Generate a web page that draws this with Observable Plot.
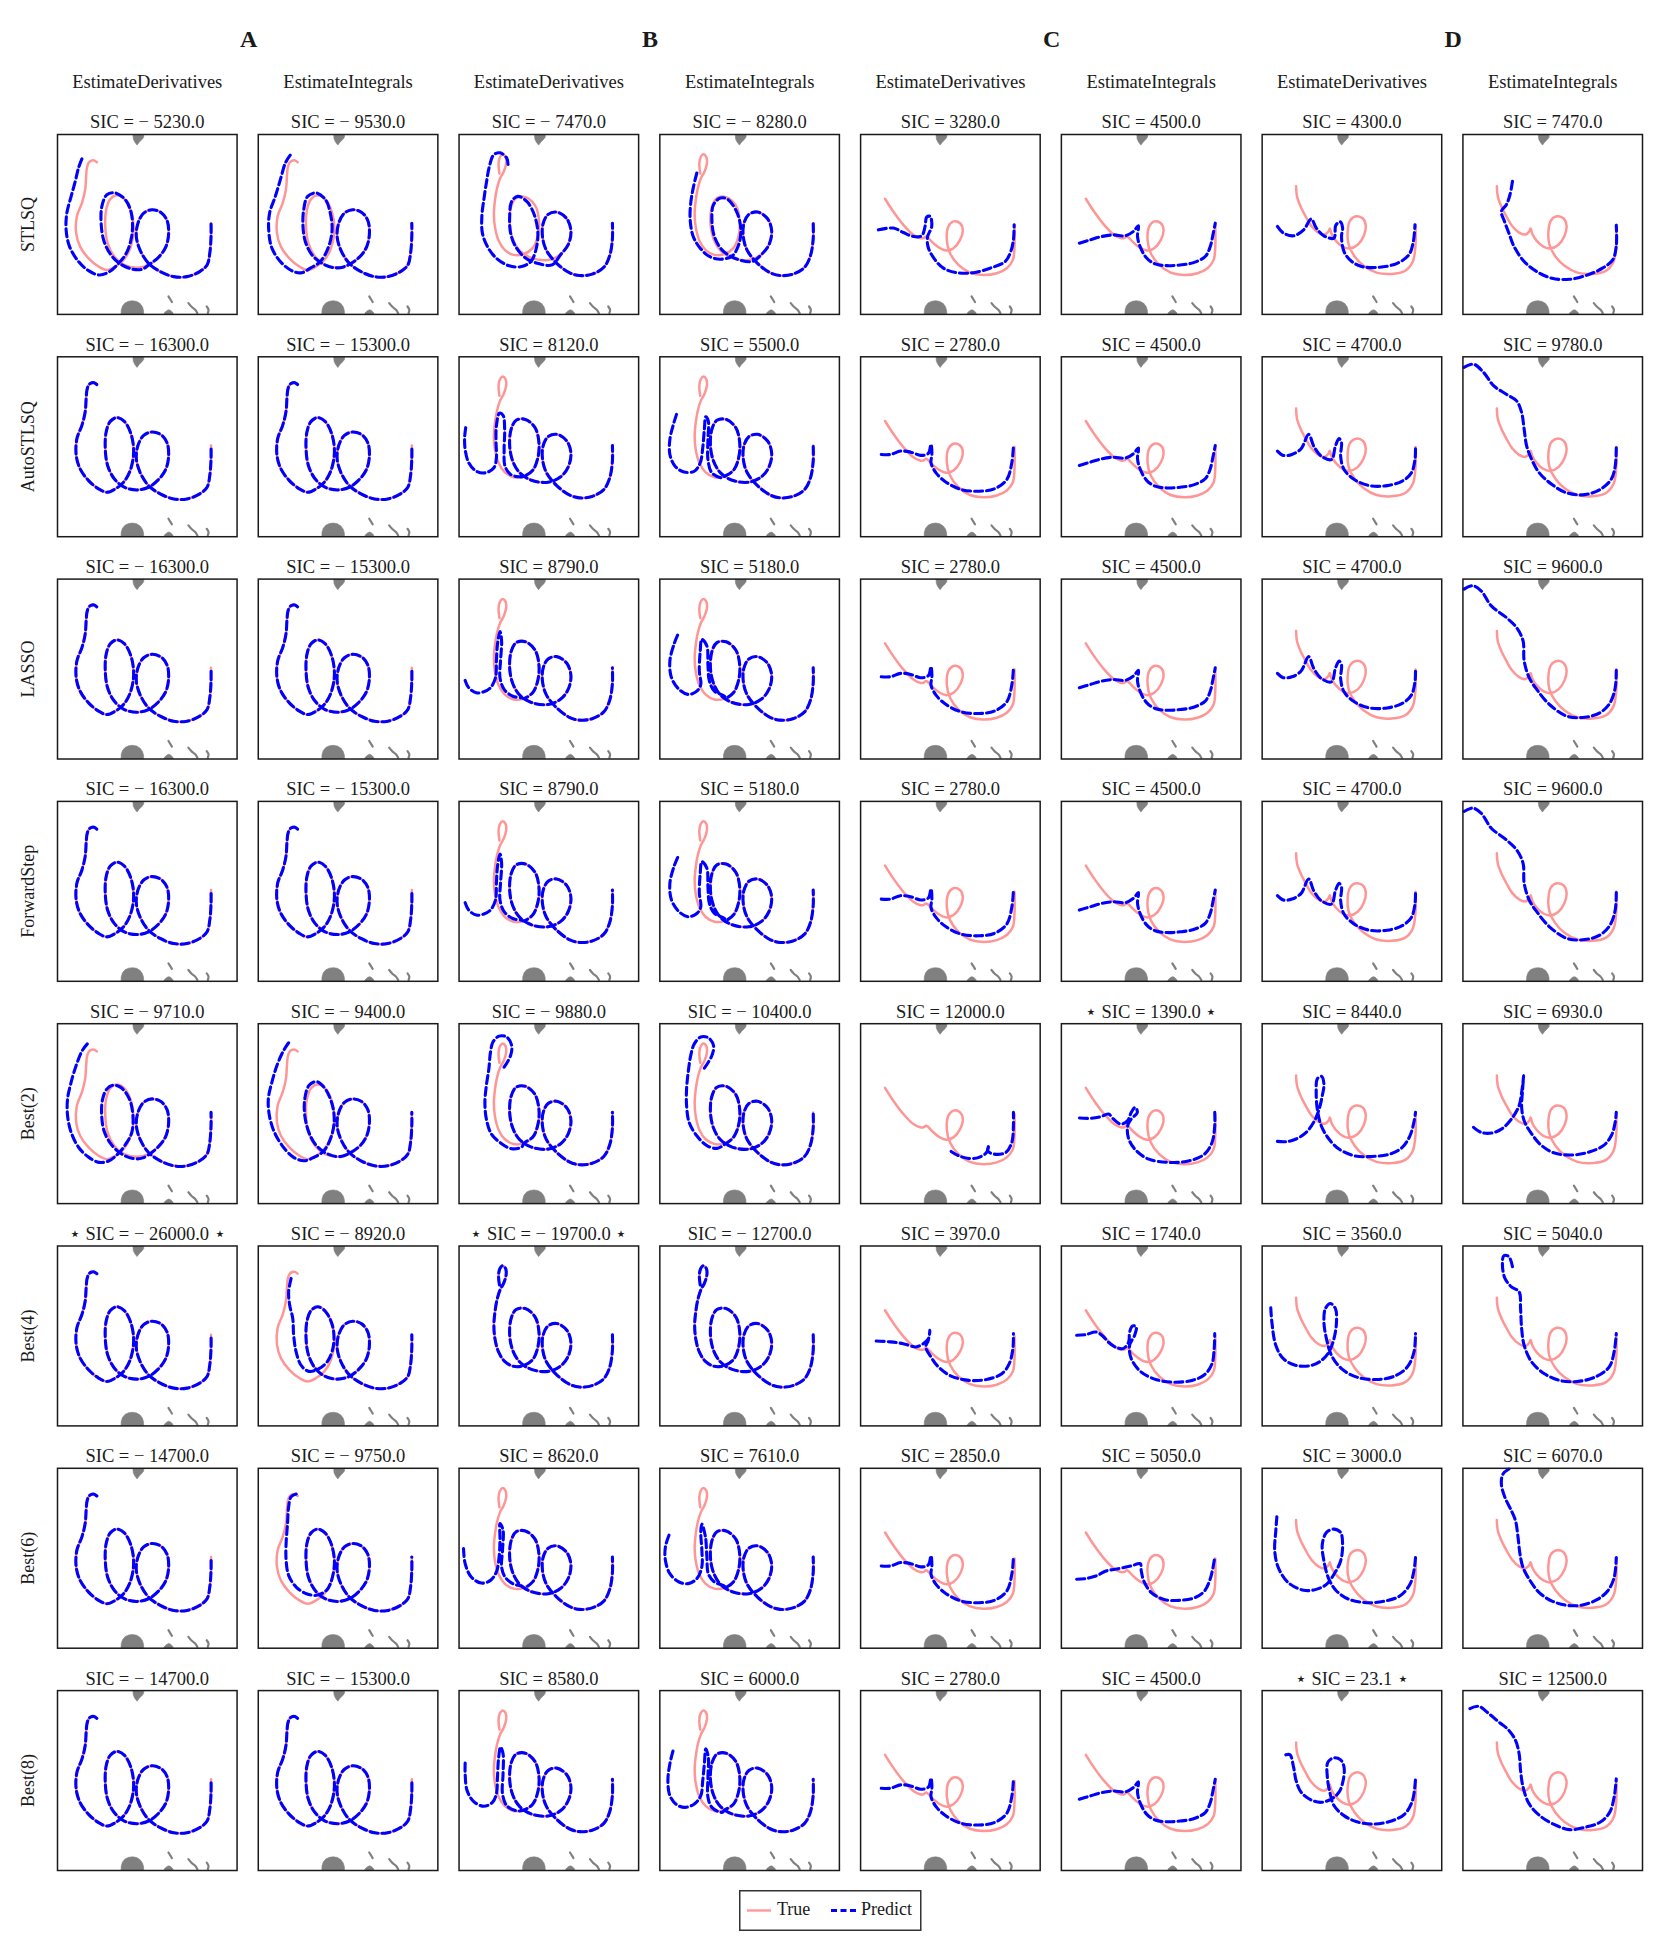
<!DOCTYPE html>
<html><head><meta charset="utf-8">
<script src="https://cdn.jsdelivr.net/npm/d3@7"></script>
<script src="https://cdn.jsdelivr.net/npm/@observablehq/plot@0.6"></script>
<style>
body{margin:0;background:#fff;}
#wrap{position:relative;width:1661px;height:1949px;background:#fff;}
#chart svg{display:block;}
#legend{position:absolute;left:739px;top:1890px;}
</style></head>
<body><div id="wrap"><div id="chart"></div>
<svg id="legend" width="184" height="42" font-family="'Liberation Serif',serif">
<rect x="0.75" y="0.75" width="181" height="39.5" fill="#fff" stroke="#333" stroke-width="1.5"/>
<line x1="8" x2="32" y1="20.5" y2="20.5" stroke="#ff9999" stroke-width="2.4"/>
<text x="38" y="21" dominant-baseline="middle" font-size="18" fill="#1a1a1a">True</text>
<line x1="92" x2="118" y1="20.5" y2="20.5" stroke="#0000ff" stroke-width="3" stroke-dasharray="6,3.5"/>
<text x="122" y="21" dominant-baseline="middle" font-size="18" fill="#1a1a1a">Predict</text>
</svg>
</div>
<script>
// ---- layout categories ----
const rows = ["STLSQ","AutoSTLSQ","LASSO","ForwardStep","Best(2)","Best(4)","Best(6)","Best(8)"];
const groups = ["A","B","C","D"];
const methods = ["EstimateDerivatives","EstimateIntegrals"];

// ---- SIC values per row (columns: A-der, A-int, B-der, B-int, C-der, C-int, D-der, D-int) ----
const sicSTLSQ = [-5230, -9530, -7470, -8280, 3280, 4500, 4300, 7470];
const sicAuto  = [-16300, -15300, 8120, 5500, 2780, 4500, 4700, 9780];
const sicLasso = [-16300, -15300, 8790, 5180, 2780, 4500, 4700, 9600];
const sicFwd   = [-16300, -15300, 8790, 5180, 2780, 4500, 4700, 9600];
const sicBest2 = [-9710, -9400, -9880, -10400, 12000, 1390, 8440, 6930];
const sicBest4 = [-26000, -8920, -19700, -12700, 3970, 1740, 3560, 5040];
const sicBest6 = [-14700, -9750, 8620, 7610, 2850, 5050, 3000, 6070];
const sicBest8 = [-14700, -15300, 8580, 6000, 2780, 4500, 23.1, 12500];
const starred = [[4,5],[5,0],[5,2],[7,6]];

// ---- true trajectories (panel units 0..100, y downward) ----
const trueA = [[21.9,15.4],[20.4,14.4],[18.6,14.6],[17.3,15.8],[16.4,18.5],[16.0,22.5],[15.4,30.7],[13.6,38.1],[10.8,45.5],[10.4,54.8],[12.6,62.3],[17.3,68.8],[22.9,73.4],[27.5,75.3],[32.2,73.4],[36.8,69.7],[40.5,63.2],[42.4,53.0],[40.9,42.8],[37.2,35.9],[33.1,33.8],[29.4,35.9],[27.1,41.8],[26.6,51.1],[27.9,60.4],[31.6,67.8],[37.2,72.5],[44.2,74.0],[50.7,72.5],[56.3,68.2],[60.4,62.3],[61.9,54.8],[61.0,47.8],[57.6,43.3],[52.6,41.8],[48.0,43.7],[44.8,49.3],[43.9,56.7],[46.1,64.5],[50.7,71.6],[57.2,76.2],[64.7,79.0],[72.1,79.0],[79.2,76.2],[83.3,72.5],[84.8,66.0],[85.5,56.7],[85.5,49.3]];
const trueB = [[22.5,21.7],[22.0,16.2],[22.8,12.5],[24.2,11.0],[25.9,12.5],[26.2,16.2],[24.8,20.8],[22.8,24.5],[21.1,30.1],[20.0,36.6],[19.4,44.1],[20.0,51.5],[22.0,58.9],[25.4,64.1],[30.4,66.9],[36.1,66.4],[41.1,63.0],[43.9,56.1],[44.5,47.8],[42.3,39.4],[36.9,34.8],[31.8,35.3],[29.0,40.3],[28.2,49.6],[29.9,58.0],[33.8,64.5],[40.3,68.6],[49.6,69.7],[56.6,66.7],[60.8,61.2],[62.3,53.7],[60.0,46.8],[54.4,43.1],[49.6,44.4],[46.8,49.6],[46.5,57.1],[48.7,64.5],[54.4,71.6],[61.4,76.8],[67.0,78.4],[74.1,77.6],[80.6,73.8],[83.9,67.3],[85.4,58.0],[85.4,49.3]];
const trueC = [[13.6,35.7],[18.2,42.8],[23.8,50.2],[29.4,55.8],[33.1,57.6],[35.0,57.6],[36.4,56.7],[37.4,57.2],[39.6,59.5],[43.3,62.6],[47.9,64.5],[51.7,63.2],[55.4,58.6],[56.9,53.0],[55.4,49.3],[51.7,48.3],[48.9,51.1],[48.0,58.6],[49.8,66.0],[54.5,72.5],[60.9,76.8],[68.4,78.1],[75.8,77.1],[81.4,74.3],[84.8,69.7],[85.7,62.3],[85.7,50.2]];
const trueD = [[18.9,28.8],[19.4,34.4],[21.4,40.0],[24.2,45.5],[27.3,50.7],[31.3,54.5],[34.9,55.6],[36.9,53.9],[37.7,52.2],[38.6,55.2],[41.1,59.1],[44.8,62.3],[48.7,63.4],[53.2,61.3],[56.6,56.3],[57.7,50.7],[56.1,46.7],[52.4,45.5],[49.0,47.8],[47.6,53.9],[48.2,61.3],[51.5,67.8],[56.6,73.0],[63.7,76.8],[72.1,77.5],[79.7,75.7],[83.9,70.6],[85.4,61.3],[85.4,50.2]];

// ---- shared predicted segments (where the prediction follows the loops) ----
const tailA = [[50.7,72.5],[56.3,68.2],[60.4,62.3],[61.9,54.8],[61.0,47.8],[57.6,43.3],[52.6,41.8],[48.0,43.7],[44.8,49.3],[43.9,56.7],[46.1,64.5],[50.7,71.6],[57.2,76.2],[64.7,79.0],[72.1,79.0],[79.2,76.2],[83.3,72.5],[84.8,66.0],[85.5,56.7],[85.5,49.3]];
const tailB2 = [[56.6,66.7],[60.8,61.2],[62.3,53.7],[60.0,46.8],[54.4,43.1],[49.6,44.4],[46.8,49.6],[46.5,57.1],[48.7,64.5],[54.4,71.6],[61.4,76.8],[67.0,78.4],[74.1,77.6],[80.6,73.8],[83.9,67.3],[85.4,58.0],[85.4,49.3]];
const loopB1 = [[36.1,66.4],[41.1,63.0],[43.9,56.1],[44.5,47.8],[42.3,39.4],[36.9,34.8],[31.8,35.3],[29.0,40.3],[28.2,49.6],[29.9,58.0],[33.8,64.5],[40.3,68.6],[49.6,69.7]];

// ---- predicted trajectories, group A ----
const pA_stlsq_der = [[13.6,13.6],[11.7,18.6],[9.9,26.0],[7.6,34.4],[5.2,43.7],[4.8,53.0],[6.7,62.3],[11.7,70.6],[17.3,75.7],[23.4,78.1],[29.0,76.2],[34.0,71.6],[38.3,66.0],[40.9,58.6],[41.8,51.1],[40.9,42.8],[37.7,36.2],[32.2,32.5],[27.5,33.5],[24.7,40.0],[24.3,49.3],[25.7,58.6],[29.4,66.4],[34.9,71.9],[42.0,74.9],[47.5,74.8]];
const pA_stlsq_int = [[17.8,11.5],[15.1,15.8],[12.3,25.1],[9.5,34.4],[6.3,43.7],[5.8,53.0],[7.6,63.2],[13.2,71.6],[19.7,76.2],[24.3,76.8],[29.0,74.3],[34.6,70.6],[39.2,62.3],[41.1,53.0],[40.1,43.7],[37.4,36.2],[32.3,32.5],[27.5,34.4],[25.3,41.8],[24.9,51.1],[26.2,59.5],[29.9,66.9],[35.5,71.6],[42.0,74.0],[47.5,73.6]];
const pA_best2_der = [[16.6,11.2],[13.8,14.9],[10.4,23.2],[7.6,32.5],[5.6,41.8],[5.6,51.1],[7.6,60.4],[11.8,68.8],[17.5,74.3],[23.1,77.1],[28.7,76.2],[34.4,71.6],[38.6,66.0],[41.4,60.4],[42.0,51.1],[40.0,41.8],[35.2,35.4],[30.7,34.2],[27.3,36.5],[25.0,42.5],[24.6,51.1],[25.9,59.5],[29.4,66.4],[34.9,71.9],[42.0,74.9],[47.5,74.6]];
const pA_best2_int = [[16.9,10.6],[14.1,14.9],[10.4,23.2],[7.6,32.5],[5.6,41.8],[6.2,51.1],[9.0,60.4],[14.1,68.8],[19.7,74.3],[25.4,76.2],[31.0,74.3],[36.6,70.6],[40.8,62.3],[42.3,53.0],[40.8,43.7],[36.6,35.3],[32.4,32.2],[28.2,34.4],[25.9,41.8],[25.9,51.1],[28.2,60.4],[32.4,67.8],[38.9,72.5],[46.0,73.8]];
const pA_best4_int = [[18.3,18.0],[16.9,25.5],[17.5,32.9],[19.2,40.3],[19.7,49.6],[21.1,58.9],[23.9,66.4],[28.2,69.7],[33.8,68.2],[38.9,63.6],[41.9,55.0],[41.5,45.0],[37.5,36.5],[33.1,33.8],[29.4,35.9],[27.1,41.8],[26.6,51.1],[27.9,60.4],[31.6,67.8],[37.2,72.5],[44.2,74.0]];
const pA_best6_int = [[21.1,14.3],[18.3,15.8],[16.9,21.4],[16.3,30.7],[15.5,41.8],[15.5,51.1],[16.9,59.5],[21.1,66.0],[26.8,69.7],[32.4,70.6],[38.0,67.8],[40.5,63.2],[42.4,53.0],[40.9,42.8],[37.2,35.9],[33.1,33.8],[29.4,35.9],[27.1,41.8],[26.6,51.1],[27.9,60.4],[31.6,67.8],[37.2,72.5],[44.2,74.0]];

// ---- predicted trajectories, group B ----
const pB_stlsq_der = [[27.3,16.7],[26.5,13.0],[22.8,10.2],[19.4,11.2],[16.9,17.7],[15.2,27.0],[13.8,36.2],[12.7,45.5],[13.0,54.8],[15.8,62.3],[20.8,68.8],[27.9,73.0],[34.9,73.4],[40.0,70.6],[42.8,64.1],[43.9,54.8],[41.9,44.6],[37.7,37.2],[32.7,34.4],[29.3,37.2],[28.2,45.5],[28.7,54.8],[31.5,62.3],[37.2,68.8],[44.8,71.9],[51.8,72.5]];
const pB_stlsq_int = [[20.6,21.4],[18.6,29.7],[17.2,38.1],[16.9,47.4],[18.6,56.7],[22.5,63.2],[27.6,67.8],[33.8,69.3],[40.3,67.5],[43.9,61.3],[45.1,53.0],[43.1,43.7],[38.0,36.2],[33.8,35.3],[29.9,39.0],[29.0,47.4],[30.4,56.7],[34.6,64.1],[41.7,68.8],[51.5,70.6]];
const pB_auto_der = [[3.7,39.4],[3.1,45.0],[3.4,51.5],[5.4,58.9],[9.6,63.6],[14.6,64.5],[19.4,61.7],[20.8,56.1],[20.6,47.8],[20.8,38.5],[22.5,31.4],[24.5,32.5],[25.4,40.3],[25.1,51.5],[25.6,60.8],[28.7,65.4],[33.5,66.7]];
const pB_auto_int = [[9.3,32.0],[7.3,38.5],[5.6,45.9],[5.6,54.3],[8.5,60.8],[13.5,64.1],[19.2,63.6],[22.5,58.9],[23.9,50.6],[24.8,40.3],[25.6,33.3],[27.0,35.7],[26.8,45.9],[26.8,57.1],[29.0,64.5],[34.6,67.3]];
const pB_lasso_der = [[3.4,56.3],[5.4,60.4],[9.6,63.2],[13.8,62.6],[17.5,60.4],[20.3,54.8],[20.8,45.5],[21.4,36.2],[22.8,29.2],[23.7,34.4],[23.1,45.5],[22.8,54.8],[25.1,61.3],[29.9,65.1],[34.9,66.0]];
const pB_lasso_int = [[9.9,31.2],[7.9,36.2],[5.6,45.5],[6.5,54.8],[10.7,61.3],[15.8,64.1],[20.6,62.3],[22.8,58.6],[22.0,51.1],[22.5,40.0],[23.4,33.5],[26.2,37.2],[26.8,47.4],[27.6,56.7],[30.4,62.3],[36.1,65.1]];
const pB_best2_der = [[25.1,24.2],[28.7,17.7],[29.3,12.1],[26.5,7.4],[22.3,6.9],[18.9,10.2],[17.5,15.8],[16.6,25.1],[15.2,34.4],[14.4,43.7],[15.2,53.0],[18.0,61.3],[23.7,66.7],[29.3,69.5],[34.9,68.6]];
const pB_best2_int = [[24.8,24.7],[29.0,17.7],[29.9,12.1],[27.0,7.8],[22.8,7.4],[19.2,11.2],[17.2,17.7],[15.8,27.0],[14.9,36.2],[14.9,45.5],[16.3,54.8],[20.6,62.3],[26.2,67.8],[31.8,69.3],[35.5,67.5]];
const pB_best6_der = [[2.5,44.6],[3.4,53.0],[6.8,60.4],[12.4,63.8],[17.5,62.3],[20.8,57.6],[22.3,49.3],[22.8,40.0],[22.8,30.7],[24.5,34.4],[24.2,45.5],[23.7,54.8],[25.6,60.4],[29.9,64.1],[34.9,65.6]];
const pB_best6_int = [[5.1,37.2],[3.1,43.7],[3.1,51.1],[5.6,58.6],[10.7,63.2],[15.8,64.1],[20.6,61.3],[23.4,54.8],[23.4,45.5],[22.8,35.3],[23.4,31.0],[25.4,38.1],[26.2,49.3],[27.0,58.6],[30.4,63.2],[36.1,65.6]];
const pB_best8_der = [[3.4,40.3],[3.4,46.3],[4.5,55.6],[8.2,61.7],[13.8,64.3],[18.6,62.1],[20.8,57.4],[21.4,48.1],[21.9,38.8],[23.1,31.4],[24.5,35.1],[24.5,46.3],[24.2,57.4],[26.5,63.9],[31.5,66.7]];
const pB_best8_int = [[7.3,33.6],[5.6,40.7],[4.5,50.0],[5.6,58.4],[9.3,63.4],[14.1,64.9],[19.2,63.0],[22.8,58.4],[23.9,50.0],[24.8,40.7],[25.6,32.3],[27.0,37.0],[26.8,48.1],[26.8,59.3],[29.0,64.9],[34.6,67.7]];

// ---- predicted trajectories, group C ----
const pC_stlsq_der = [[9.9,53.0],[18.2,52.0],[23.8,54.5],[29.4,56.7],[34.0,56.3],[35.9,51.1],[36.8,45.9],[38.7,45.5],[39.6,51.1],[37.2,57.1],[37.8,63.2],[41.5,69.7],[46.1,74.3],[53.5,76.8],[62.8,76.8],[72.1,74.3],[80.5,70.6],[83.6,65.1],[85.1,58.6],[85.5,50.2]];
const pC_int_a = [[10.0,60.4],[16.0,58.6],[22.5,56.7],[29.0,55.8],[35.5,56.3],[40.1,53.9],[42.9,50.7],[42.4,56.7],[44.2,63.2],[47.6,68.8],[52.2,71.9],[58.7,72.9],[66.2,72.5],[73.6,71.2],[80.1,67.8],[82.9,62.3],[84.4,55.8],[85.7,49.3]];
const pC_auto_der = [[11.5,54.3],[16.6,54.3],[22.3,52.4],[27.9,53.0],[33.5,54.8],[37.7,53.7],[39.2,48.7],[39.7,54.3],[39.2,58.9],[42.0,64.5],[47.6,69.7],[56.1,73.8],[65.9,74.7],[74.4,73.4],[81.4,68.2],[84.2,58.9],[85.1,49.6]];
const pC_best2_der = [[50.4,71.0],[54.6,73.4],[60.3,74.9],[65.9,74.3],[70.1,71.6],[71.5,67.5],[70.7,70.6],[74.4,72.5],[80.8,71.6],[84.2,66.0],[85.1,56.7],[85.1,49.3]];
const pC_best2_int = [[10.1,52.4],[16.3,52.6],[21.9,51.7],[26.2,50.2],[29.0,53.0],[33.2,55.8],[36.9,53.9],[38.9,49.3],[41.1,46.5],[42.3,49.3],[38.9,53.0],[36.9,56.7],[37.5,64.1],[41.7,70.6],[48.7,75.3],[60.0,77.1],[71.3,76.2],[79.7,72.5],[83.9,66.0],[85.4,56.7],[85.4,49.3]];
const pC_best4_der = [[8.7,52.8],[16.6,53.3],[23.7,54.3],[30.7,56.1],[34.1,54.8],[37.7,51.5],[38.6,46.8],[37.7,52.4],[36.3,56.1],[39.2,61.7],[43.4,67.3],[50.4,72.3],[60.3,74.7],[70.1,74.2],[78.6,71.0],[82.8,65.4],[84.8,57.1],[85.1,48.7]];
const pC_best4_int = [[8.5,49.6],[13.5,49.3],[19.2,47.8],[23.0,50.0],[26.2,53.5],[30.4,56.3],[34.6,56.9],[37.5,53.3],[38.0,47.8],[39.7,44.4],[41.7,45.0],[40.8,49.6],[38.0,55.2],[38.9,62.6],[44.5,70.1],[53.0,74.3],[62.8,75.7],[72.7,74.7],[79.7,71.6],[83.9,65.4],[85.1,57.1],[85.4,48.7]];
const pC_best6_int = [[8.5,61.7],[13.5,61.3],[19.2,59.9],[24.8,57.1],[31.8,55.8],[38.9,54.3],[43.9,53.0],[44.5,57.1],[45.9,62.6],[50.1,69.1],[57.2,72.9],[65.6,73.4],[74.1,72.0],[79.7,68.2],[83.1,60.8],[85.4,49.6]];

// ---- predicted trajectories, group D ----
const pD_stlsq_der = [[8.5,51.1],[11.8,54.8],[17.5,56.3],[23.1,53.0],[27.3,47.0],[30.1,51.9],[34.4,56.3],[40.0,57.6],[41.0,50.5],[43.5,48.5],[44.8,52.0],[44.2,56.7],[45.6,65.1],[49.9,70.6],[55.5,73.4],[65.4,73.8],[75.2,71.6],[81.7,66.9],[84.2,59.5],[85.1,50.2]];
const pD_stlsq_int = [[27.6,26.0],[26.2,33.5],[24.2,39.0],[21.4,42.8],[22.8,47.4],[25.6,54.8],[28.5,62.3],[34.1,70.6],[41.1,76.2],[49.6,79.9],[59.4,80.5],[69.3,78.1],[77.7,74.3],[83.4,69.7],[85.4,62.0],[85.4,50.5]];
const pD_auto_der = [[8.5,52.4],[11.8,54.8],[16.6,54.3],[21.7,51.1],[25.9,43.1],[28.7,49.6],[32.9,55.2],[38.6,57.1],[40.8,49.6],[42.8,45.5],[44.2,47.8],[43.7,55.2],[45.6,62.6],[51.3,68.2],[59.7,71.6],[69.6,71.6],[78.0,69.1],[83.1,64.5],[85.1,57.1],[85.4,49.6]];
const pD_auto_int = [[0.6,5.9],[5.9,4.1],[11.5,8.7],[17.2,16.2],[24.2,20.8],[29.9,24.5],[32.7,31.0],[34.1,40.3],[35.5,49.6],[38.3,57.1],[42.5,64.5],[49.6,71.0],[58.0,75.7],[67.9,76.6],[76.3,73.8],[82.5,68.2],[84.8,60.8],[85.4,49.6]];
const pD_lasso_int = [[0.6,5.6],[5.4,3.7],[10.1,6.5],[15.8,14.9],[24.2,21.4],[29.9,27.0],[33.5,34.4],[34.1,45.5],[36.9,54.8],[41.1,61.3],[48.2,69.7],[58.0,76.2],[67.9,76.8],[76.3,74.3],[81.9,68.8],[84.8,60.4],[85.4,49.3]];
const pD_best2_der = [[8.5,65.4],[13.2,65.6],[18.9,64.1],[24.5,60.4],[28.7,54.8],[31.5,48.3],[33.5,39.9],[34.4,33.5],[33.0,29.2],[30.7,30.7],[30.1,38.1],[30.7,47.4],[32.9,56.7],[37.2,64.1],[42.8,69.7],[51.3,73.4],[61.1,73.8],[71.0,72.5],[78.0,68.8],[82.3,62.3],[84.5,54.8],[85.4,49.3]];
const pD_best2_int = [[5.9,57.6],[10.1,60.4],[15.8,60.8],[21.4,58.6],[27.0,53.0],[31.3,45.5],[32.7,38.1],[33.5,32.0],[33.8,28.8],[33.2,37.2],[32.7,46.5],[34.1,53.9],[38.3,61.3],[43.9,67.8],[51.0,71.9],[60.8,73.0],[70.7,71.2],[78.6,67.5],[82.8,61.9],[84.8,54.8],[85.4,49.3]];
const pD_best4_der = [[4.8,34.4],[5.4,42.2],[7.6,55.2],[11.8,62.6],[18.9,66.4],[27.3,66.4],[33.0,63.6],[37.2,58.9],[40.0,51.5],[41.4,42.2],[40.8,34.8],[38.0,32.0],[35.2,34.8],[34.4,42.2],[35.8,51.5],[38.6,60.8],[44.2,68.2],[52.7,72.9],[63.9,74.2],[73.8,72.3],[80.8,67.3],[84.5,59.1],[85.4,48.7]];
const pD_best4_int = [[27.6,11.5],[25.6,5.9],[22.8,5.4],[22.0,10.6],[23.4,18.0],[27.0,22.7],[31.3,25.5],[32.1,34.8],[32.7,45.9],[34.1,55.2],[38.3,64.5],[45.4,71.0],[53.8,74.7],[63.7,75.3],[73.5,72.9],[81.4,67.3],[84.2,58.9],[85.4,48.7]];
const pD_best6_der = [[8.2,26.9],[7.6,34.8],[7.0,45.9],[9.0,55.2],[14.6,63.6],[23.1,67.8],[30.1,67.3],[35.8,64.5],[40.0,58.9],[43.7,51.5],[44.8,42.2],[43.7,35.7],[40.0,33.8],[35.8,35.7],[33.5,42.2],[34.4,51.5],[37.2,61.7],[41.4,68.2],[48.5,72.9],[58.3,74.7],[68.2,73.8],[76.6,71.0],[82.3,64.5],[84.5,57.1],[85.4,49.6]];
const pD_best6_int = [[25.6,0.4],[22.3,3.2],[21.4,8.7],[23.4,16.2],[27.0,23.6],[29.3,29.2],[30.7,38.5],[31.8,47.8],[33.5,55.2],[37.5,62.6],[42.5,69.1],[49.6,73.8],[58.0,76.2],[66.5,76.0],[74.9,72.9],[80.6,68.2],[84.2,60.8],[85.4,49.6]];
const pD_best8_der = [[13.2,35.7],[15.5,35.7],[17.5,42.6],[18.9,50.0],[21.7,56.5],[27.3,60.8],[33.0,62.1],[38.6,60.2],[42.8,56.5],[45.1,50.0],[45.6,42.6],[43.7,38.5],[40.0,37.4],[36.6,39.8],[36.3,48.1],[37.7,56.5],[40.0,63.9],[45.6,69.5],[52.7,72.9],[62.5,74.2],[72.4,72.3],[79.4,68.6],[83.7,61.2],[85.4,49.1]];
const pD_best8_int = [[3.9,10.0],[8.7,8.7],[14.4,12.8],[20.0,17.5],[25.6,22.1],[29.3,27.7],[31.3,35.1],[32.1,44.4],[33.5,53.7],[36.9,63.0],[43.9,70.4],[52.4,75.1],[59.4,77.3],[67.9,76.0],[76.3,73.2],[81.7,67.7],[84.2,59.3],[85.4,49.1]];

// ---- obstacles (same in every panel) ----
const obstacleFills = [
  {id:"top",   pts:[[42,0],[42.2,2.5],[43,4.2],[44.3,5.9],[45.5,4.3],[47,2.8],[48,1.5],[48,0]]},
  {id:"big",   pts:[[35.4,100],[35.5,97.5],[36.2,95.3],[37.6,93.6],[39.6,92.7],[41.8,92.4],[44.1,92.8],[46.0,94.0],[47.3,95.8],[47.9,97.8],[48,100]]},
  {id:"small", pts:[[59.1,100],[59.8,98.8],[61,97.8],[62,97.4],[63,97.8],[64,98.8],[64.6,100]]}
];
const obstacleStrokes = [
  {id:"s1", pts:[[61.8,90.0],[62.8,91.6],[63.7,93.1]]},
  {id:"s2", pts:[[72.9,93.7],[74.8,95.9],[76.7,97.4],[77.9,99.3]]},
  {id:"s3", pts:[[83.1,95.6],[84.1,97.4],[83.7,99.3]]}
];

// ---- assemble tables ----
const cols = groups.flatMap(g => methods.map(m => g + "·" + m));
const sicRows = [sicSTLSQ, sicAuto, sicLasso, sicFwd, sicBest2, sicBest4, sicBest6, sicBest8];
const trueByGroup = [trueA, trueB, trueC, trueD];
const predGrid = [
  [pA_stlsq_der.concat(tailA), pA_stlsq_int.concat(tailA.slice(1)), pB_stlsq_der.concat(tailB2), pB_stlsq_int.concat(tailB2), pC_stlsq_der, pC_int_a, pD_stlsq_der, pD_stlsq_int],
  [trueA, trueA, pB_auto_der.concat(loopB1, tailB2), pB_auto_int.concat(loopB1, tailB2), pC_auto_der, pC_int_a, pD_auto_der, pD_auto_int],
  [trueA, trueA, pB_lasso_der.concat(loopB1, tailB2), pB_lasso_int.concat(loopB1, tailB2), pC_auto_der, pC_int_a, pD_auto_der, pD_lasso_int],
  [trueA, trueA, pB_lasso_der.concat(loopB1, tailB2), pB_lasso_int.concat(loopB1, tailB2), pC_auto_der, pC_int_a, pD_auto_der, pD_lasso_int],
  [pA_best2_der.concat(tailA.slice(1)), pA_best2_int.concat(tailA.slice(1)), pB_best2_der.concat(loopB1, tailB2), pB_best2_int.concat(loopB1.slice(1), tailB2), pC_best2_der, pC_best2_int, pD_best2_der, pD_best2_int],
  [trueA, pA_best4_int.concat(tailA), trueB, trueB, pC_best4_der, pC_best4_int, pD_best4_der, pD_best4_int],
  [trueA, pA_best6_int.concat(tailA), pB_best6_der.concat(loopB1, tailB2), pB_best6_int.concat(loopB1, tailB2), pC_auto_der, pC_best6_int, pD_best6_der, pD_best6_int],
  [trueA, trueA, pB_best8_der.concat(loopB1, tailB2), pB_best8_int.concat(loopB1, tailB2), pC_auto_der, pC_int_a, pD_best8_der, pD_best8_int]
];

const trueRows = [], predRows = [], titles = [];
rows.forEach((r, i) => cols.forEach((c, j) => {
  const key = r + "|" + c;
  trueByGroup[Math.floor(j / 2)].forEach(([x, y]) => trueRows.push({row: r, col: c, key, x, y}));
  predGrid[i][j].forEach(([x, y]) => predRows.push({row: r, col: c, key, x, y}));
  const v = sicRows[i][j];
  const s = v < 0 ? `SIC = − ${Math.abs(v).toFixed(1)}` : `SIC = ${v.toFixed(1)}`;
  const star = starred.some(([a, b]) => a === i && b === j);
  titles.push({row: r, col: c, text: star ? `⋆ ${s} ⋆` : s});
}));
const fillPts = obstacleFills.flatMap(o => o.pts.map(([x, y]) => ({id: o.id, x, y})));
const strokePts = obstacleStrokes.flatMap(o => o.pts.map(([x, y]) => ({id: o.id, x, y})));

const font = "'Liberation Serif', 'DejaVu Serif', serif";
const chart = Plot.plot({
  width: 1661, height: 1880,
  marginLeft: 57, marginRight: 19, marginTop: 134, marginBottom: 10,
  x: {domain: [0, 100], axis: null},
  y: {domain: [0, 100], reverse: true, axis: null},
  fx: {domain: cols, axis: null, paddingInner: 0.1056, paddingOuter: 0, round: false},
  fy: {domain: rows, axis: null, paddingInner: 0.1907, paddingOuter: 0, round: false},
  facet: {marginTop: 0, marginRight: 0, marginBottom: 0, marginLeft: 0},
  style: {fontFamily: font, color: "#1a1a1a", background: "white"},
  marks: [
    Plot.line(fillPts, {x: "x", y: "y", z: "id", fill: "#808080", stroke: "#808080", strokeWidth: 0.6}),
    Plot.line(strokePts, {x: "x", y: "y", z: "id", stroke: "#808080", strokeWidth: 2.2, curve: "catmull-rom"}),
    Plot.line(trueRows, {x: "x", y: "y", z: "key", fx: "col", fy: "row", stroke: "#ff9696", strokeWidth: 2.5, curve: "catmull-rom"}),
    Plot.line(predRows, {x: "x", y: "y", z: "key", fx: "col", fy: "row", stroke: "#0000ff", strokeWidth: 3.1, strokeDasharray: "8,4", curve: "catmull-rom"}),
    Plot.frame({stroke: "#1a1a1a", strokeWidth: 1.5}),
    Plot.text(titles, {fx: "col", fy: "row", text: "text", frameAnchor: "top", lineAnchor: "middle", dy: -12, fontSize: 18.5}),
    Plot.text(cols, {fx: d => d, fy: () => rows[0], text: d => d.split("·")[1], frameAnchor: "top", lineAnchor: "middle", dy: -52, fontSize: 18.5}),
    Plot.text(groups, {fx: g => g + "·" + methods[0], fy: () => rows[0], text: d => d, frameAnchor: "top-right", lineAnchor: "middle", dx: 11.5, dy: -95, textAnchor: "middle", fontWeight: "bold", fontSize: 24}),
    Plot.text(rows, {fx: () => cols[0], fy: d => d, text: d => d, frameAnchor: "left", lineAnchor: "middle", textAnchor: "middle", dx: -29, rotate: -90, fontSize: 18})
  ]
});
document.getElementById("chart").appendChild(chart);
</script>
</body></html>
